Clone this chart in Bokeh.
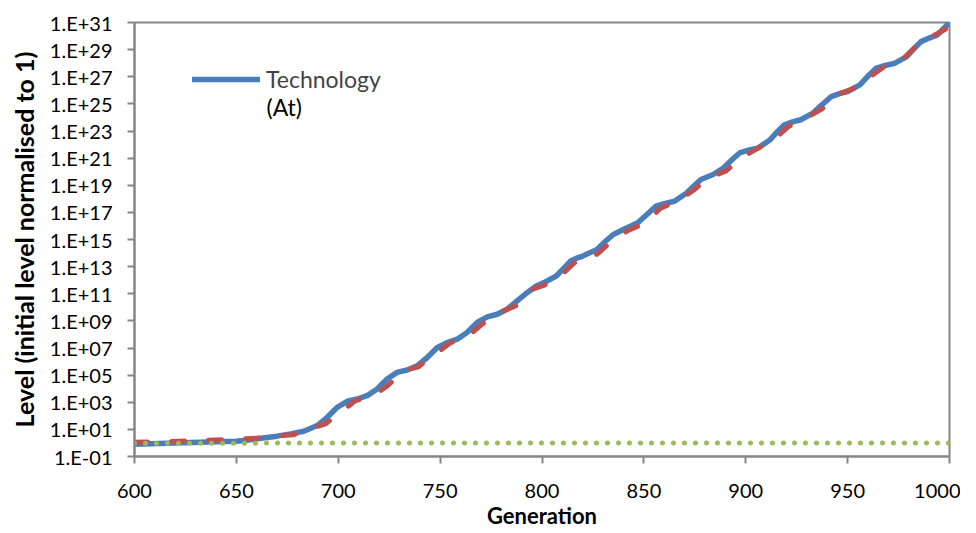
from bokeh.plotting import figure
from bokeh.models import FixedTicker, CustomJSTickFormatter, Legend, LegendItem, Label
from bokeh.embed import file_html
from bokeh.resources import INLINE

# ---- data ----
blue_gen = [600, 620, 640, 650, 655, 662, 670, 676.6, 683.1, 689.7, 694.6, 699.5, 704.4, 709.3, 714.2,
            719.1, 724.0, 728.9, 733.8, 738.7, 743.7, 748.6, 753.5, 758.4, 763.2, 768.2, 773.1,
            778.0, 782.9, 787.8, 792.7, 797, 801, 807, 810.5, 814, 817, 820, 827, 831, 835, 840,
            847, 851.5, 856, 860, 865, 871, 874.5, 878, 884, 889, 893, 897, 901, 906, 912, 915.5,
            919, 923, 927, 933, 937.5, 942, 946, 950, 956, 960, 964, 968.5, 973, 979, 982.5, 986,
            990, 994, 1000]
blue_log = [-0.1, 0.0, 0.08, 0.13, 0.2, 0.35, 0.5, 0.67, 0.86, 1.28, 1.89, 2.63, 3.07, 3.24, 3.49,
            3.98, 4.71, 5.20, 5.38, 5.69, 6.30, 7.04, 7.40, 7.65, 8.14, 8.88, 9.29,
            9.49, 9.86, 10.47, 11.08, 11.55, 11.82, 12.31, 12.85, 13.41, 13.62, 13.78, 14.27, 14.85, 15.37, 15.74,
            16.23, 16.85, 17.46, 17.65, 17.82, 18.43, 18.95, 19.42, 19.79, 20.27, 20.85, 21.38, 21.58, 21.74, 22.36, 22.95,
            23.46, 23.67, 23.83, 24.32, 24.95, 25.54, 25.75, 25.91, 26.40, 27.05, 27.63, 27.83, 27.99, 28.49, 29.05, 29.59,
            29.85, 30.08, 31.0]

red_gen = [600, 615, 630, 645, 660, 671.7, 678.0, 686.4, 693.7, 702.1, 708.5, 717.3, 724.2, 732.0, 739.4,
           747.7, 755.1, 763.9, 770.8, 778.7, 787.0, 794.4, 802.7, 810.6, 817.4, 827.2, 833.6,
           842.5, 850.8, 858.2, 866.5, 874.4, 881.2, 890.1, 897.5, 905.8, 913.6, 921.0, 929.3,
           937.7, 945.0, 952.9, 961.2, 968.6, 977.4, 984.3, 992.1, 998.0]
red_log = [0.05, 0.1, 0.17, 0.24, 0.35, 0.54, 0.6, 1.06, 1.4, 2.38, 3.12, 3.49, 4.22, 5.32, 5.62,
           6.57, 7.38, 7.90, 8.78, 9.59, 10.10, 11.28, 11.72, 12.53, 13.49, 13.93, 14.81,
           15.69, 16.21, 17.31, 17.82, 18.63, 19.51, 20.03, 20.99, 21.72, 22.31, 23.34, 23.93,
           24.66, 25.69, 26.13, 27.01, 27.82, 28.34, 29.37, 30.03, 30.5]

green_gen = [600, 650, 700, 750, 800, 850, 900, 950, 1000]
green_val = [0.95, 0.96, 1.0, 0.98, 0.97, 0.98, 0.98, 0.97, 0.97]

x_ticks = [600, 650, 700, 750, 800, 850, 900, 950, 1000]
y_tick_exps = [-1, 1, 3, 5, 7, 9, 11, 13, 15, 17, 19, 21, 23, 25, 27, 29, 31]
y_tick_labels = ["1.E-01", "1.E+01", "1.E+03", "1.E+05", "1.E+07", "1.E+09", "1.E+11", "1.E+13",
                 "1.E+15", "1.E+17", "1.E+19", "1.E+21", "1.E+23", "1.E+25", "1.E+27", "1.E+29", "1.E+31"]

x_title = "Generation"
y_title = "Level (initial level normalised to 1)"
legend_label = "Technology"
legend_label2 = "(At)"

blue_val = [10 ** v for v in blue_log]
red_val = [10 ** v for v in red_log]

FONT = "Lato"
AXIS_COLOR = "#868686"

p = figure(width=960, height=533, y_axis_type="log",
           x_range=(600, 1000), y_range=(1e-1, 1e31),
           output_backend="svg", toolbar_location=None,
           min_border_left=134, min_border_right=11, min_border_top=22, min_border_bottom=77)

p.grid.visible = False
p.outline_line_color = AXIS_COLOR
p.outline_line_width = 2
p.background_fill_color = "white"
p.border_fill_color = "white"

blue_r = p.line(blue_gen, blue_val, line_color="#4A7EBB", line_width=5.5,
                line_cap="round", line_join="round")
p.line(red_gen, red_val, line_color="#C0504D", line_width=5,
       line_dash="13 24", line_cap="round", line_join="round")
p.line(green_gen, green_val, line_color="#9BBB59", line_width=5,
       line_dash="0 11", line_cap="round")

# axes
for ax in (p.xaxis[0], p.yaxis[0]):
    ax.axis_line_color = AXIS_COLOR
    ax.axis_line_width = 2
    ax.major_tick_line_color = AXIS_COLOR
    ax.major_tick_line_width = 2
    ax.major_tick_in = 0
    ax.major_tick_out = 7
    ax.minor_tick_line_color = None
    ax.major_label_text_font = FONT
    ax.major_label_text_font_size = "20px"
    ax.major_label_text_color = "black"
    ax.axis_label_text_font = FONT
    ax.axis_label_text_font_style = "bold"
    ax.axis_label_text_color = "black"

p.xaxis.ticker = FixedTicker(ticks=x_ticks)
p.xaxis.major_label_standoff = 20
p.xaxis.axis_label = x_title
p.xaxis.axis_label_text_font_size = "22px"
p.xaxis.axis_label_standoff = 1

p.yaxis.ticker = FixedTicker(ticks=[10.0 ** e for e in y_tick_exps])
p.yaxis.formatter = CustomJSTickFormatter(args=dict(labels=y_tick_labels), code="""
const e = Math.round(Math.log10(tick));
return labels[(e + 1) / 2];
""")
p.yaxis.axis_label = y_title
p.yaxis.axis_label_text_font_size = "25px"
p.yaxis.major_label_standoff = 15
p.yaxis.axis_label_standoff = 8

legend = Legend(items=[LegendItem(label=legend_label, renderers=[blue_r])],
                location=(58, 363), border_line_color=None, background_fill_alpha=0,
                padding=0, margin=0, glyph_width=68, glyph_height=20, label_standoff=6,
                label_text_font=FONT, label_text_font_size="23px", label_height=20)
p.add_layout(legend)

p.add_layout(Label(x=132, y=350, x_units="screen", y_units="screen", text=legend_label2,
                   text_font=FONT, text_font_size="23px", text_baseline="middle",
                   text_color="black"))

open("out.html", "w").write(file_html(p, INLINE))
